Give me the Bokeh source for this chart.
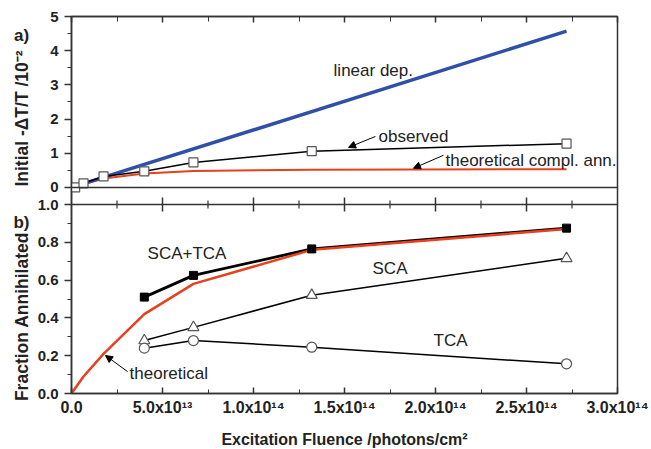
import math
from bokeh.plotting import figure
from bokeh.layouts import row
from bokeh.models import LinearAxis, FixedTicker, Range1d, Span, Label, Arrow, NormalHead
from bokeh.embed import file_html
from bokeh.resources import INLINE

# ---------------- data ----------------
fluence_obs = [0.2e13, 0.66e13, 1.76e13, 4.0e13, 6.7e13, 1.32e14, 2.72e14]
observed = [0.0, 0.12, 0.32, 0.47, 0.73, 1.06, 1.28]
linear_x = [0.0, 2.72e14]
linear_y = [0.0, 4.57]
theo_x = [0.0, 0.66e13, 1.76e13, 4.0e13, 6.7e13, 1.32e14, 2.72e14]
theo_compl = [0.0, 0.09, 0.26, 0.41, 0.48, 0.52, 0.53]
theo_frac = [0.0, 0.09, 0.21, 0.42, 0.58, 0.76, 0.87]
frac_x = [4.0e13, 6.7e13, 1.32e14, 2.72e14]
sca_tca = [0.51, 0.625, 0.765, 0.875]
sca = [0.28, 0.35, 0.52, 0.715]
tca = [0.24, 0.28, 0.245, 0.157]

x_ticks = [0.0, 5e13, 1e14, 1.5e14, 2e14, 2.5e14, 3e14]
x_minor = [2.5e13, 7.5e13, 1.25e14, 1.75e14, 2.25e14, 2.75e14]
x_tick_labels = ["0.0", "5.0x10¹³", "1.0x10¹⁴", "1.5x10¹⁴", "2.0x10¹⁴", "2.5x10¹⁴", "3.0x10¹⁴"]
ya_ticks = [0, 1, 2, 3, 4, 5]
ya_tick_labels = ["0", "1", "2", "3", "4", "5"]
ya_minor = [0.5, 1.5, 2.5, 3.5, 4.5]
yb_ticks = [0.0, 0.2, 0.4, 0.6, 0.8, 1.0]
yb_tick_labels = ["0.0", "0.2", "0.4", "0.6", "0.8", "1.0"]
yb_minor = [0.1, 0.3, 0.5, 0.7, 0.9]

BLUE = "#3050a8"
RED = "#e8401c"
FONT = "Liberation Sans"
AX = "#333333"
TXT = "#222222"

# ---------------- layout geometry (pixels) ----------------
LBL_W = 31                     # column holding panel letters and axis titles
BORDER_L, BORDER_R, FW = 40, 34, 546
TOP, FH, BOTTOM = 16, 377, 56
PANEL_B_PX = 189               # bottom panel height inside the shared frame
PANEL_A_PX = FH - PANEL_B_PX   # top panel height

# bottom panel uses the main y range: 0..1 over PANEL_B_PX
y_main_end = FH / PANEL_B_PX
# top panel: -0.5..5 over PANEL_A_PX
a_lo, a_hi = -0.5, 5.0
a_start = a_lo - (a_hi - a_lo) * PANEL_B_PX / PANEL_A_PX


def a_to_main(v):
    return (v - a_start) / (a_hi - a_start) * y_main_end


p = figure(frame_width=FW, frame_height=FH,
           min_border_left=BORDER_L, min_border_right=BORDER_R,
           min_border_top=TOP, min_border_bottom=BOTTOM,
           x_range=Range1d(0, 3e14), y_range=Range1d(0, y_main_end),
           output_backend="svg", toolbar_location=None,
           background_fill_color="white", border_fill_color="white")
p.extra_y_ranges = {"a": Range1d(a_start, a_hi)}
p.grid.visible = False
p.outline_line_color = AX
p.outline_line_width = 1.5

# ---- left axis carrying both panels' ticks ----
ya_main = [a_to_main(v) for v in ya_ticks]
ya_minor_main = [a_to_main(v) for v in ya_minor]
yax = p.yaxis[0]
yax.ticker = FixedTicker(ticks=yb_ticks + ya_main, minor_ticks=yb_minor + ya_minor_main)
overrides = {t: l for t, l in zip(yb_ticks, yb_tick_labels)}
overrides.update({t: l for t, l in zip(ya_main, ya_tick_labels)})
yax.major_label_overrides = overrides
yax.major_tick_out = 7
yax.major_tick_in = 0
yax.minor_tick_out = 4
yax.minor_tick_in = 0
yax.major_label_standoff = 6
yax.major_label_text_font = FONT
yax.major_label_text_font_style = "bold"
yax.major_label_text_font_size = "15px"
yax.major_label_text_color = TXT
yax.axis_line_color = AX
yax.axis_line_width = 1.5
yax.major_tick_line_color = AX
yax.minor_tick_line_color = AX
yax.major_tick_line_width = 1.5

# ---- bottom axis ----
xb = p.xaxis[0]
xb.ticker = FixedTicker(ticks=x_ticks, minor_ticks=x_minor)
xb.major_label_overrides = {t: l for t, l in zip(x_ticks, x_tick_labels)}
xb.major_tick_in = 6
xb.major_tick_out = 0
xb.minor_tick_in = 4
xb.minor_tick_out = 0
xb.major_label_standoff = 5
xb.major_label_text_font = FONT
xb.major_label_text_font_style = "bold"
xb.major_label_text_font_size = "16px"
xb.major_label_text_color = TXT
xb.axis_label = "Excitation Fluence /photons/cm²"
xb.axis_label_text_font = FONT
xb.axis_label_text_font_style = "bold"
xb.axis_label_text_font_size = "16px"
xb.axis_label_text_color = TXT
xb.axis_label_standoff = 12
xb.axis_line_color = AX
xb.axis_line_width = 1.5
xb.major_tick_line_color = AX
xb.minor_tick_line_color = AX
xb.major_tick_line_width = 1.5

# ---- top axis: inward ticks, no labels ----
xt = LinearAxis()
xt.ticker = FixedTicker(ticks=x_ticks, minor_ticks=x_minor)
xt.major_tick_in = 6
xt.major_tick_out = 0
xt.minor_tick_in = 5
xt.minor_tick_out = 0
xt.major_label_text_font_size = "0px"
xt.major_label_standoff = 0
xt.axis_line_color = AX
xt.axis_line_width = 1.5
xt.major_tick_line_color = AX
xt.minor_tick_line_color = AX
xt.major_tick_line_width = 1.5
p.add_layout(xt, "above")

# ---- panel divider and zero line of panel a ----
p.add_layout(Span(location=1.0, dimension="width", line_color=AX, line_width=1.5))
p.add_layout(Span(location=a_to_main(0), dimension="width", line_color=AX, line_width=1.5))
# crossing ticks on the divider
maj_d = 7 / PANEL_B_PX
min_d = 4 / PANEL_B_PX
p.segment(x0=x_ticks[1:-1], y0=[1.0 - maj_d] * (len(x_ticks) - 2),
          x1=x_ticks[1:-1], y1=[1.0 + maj_d] * (len(x_ticks) - 2),
          line_color=AX, line_width=1.5)
p.segment(x0=x_minor, y0=[1.0 - min_d] * len(x_minor),
          x1=x_minor, y1=[1.0 + min_d] * len(x_minor),
          line_color=AX, line_width=1.2)

# ---------------- panel a glyphs ----------------
p.line(theo_x, theo_compl, line_color=RED, line_width=2, y_range_name="a")
p.line(linear_x, linear_y, line_color=BLUE, line_width=3.5, y_range_name="a")
p.line(fluence_obs, observed, line_color="black", line_width=1.5, y_range_name="a")
p.scatter(fluence_obs, observed, marker="square", size=9, fill_color="white",
          line_color="#555555", line_width=1.2, y_range_name="a")

txt = dict(text_font=FONT, text_font_size="17px", text_color=TXT, text_baseline="middle")
p.add_layout(Label(x=1.44e14, y=3.42, text="linear dep.", y_range_name="a", **txt))
p.add_layout(Label(x=1.687e14, y=1.49, text="observed", y_range_name="a", **txt))
p.add_layout(Label(x=2.055e14, y=0.79, text="theoretical compl. ann.", y_range_name="a", **txt))
p.add_layout(Arrow(end=NormalHead(size=7, fill_color="black", line_color="black"),
                   x_start=1.67e14, y_start=1.49, x_end=1.522e14, y_end=1.17,
                   line_color="black", line_width=1, y_range_name="a"))
p.add_layout(Arrow(end=NormalHead(size=7, fill_color="black", line_color="black"),
                   x_start=2.044e14, y_start=0.94, x_end=1.879e14, y_end=0.56,
                   line_color="black", line_width=1, y_range_name="a"))

# ---------------- panel b glyphs ----------------
p.line(frac_x, sca_tca, line_color="black", line_width=2.8)
p.line(theo_x, theo_frac, line_color=RED, line_width=2.5)
p.line(frac_x, sca, line_color="black", line_width=1.5)
p.line(frac_x, tca, line_color="black", line_width=1.5)
p.scatter(frac_x, sca_tca, marker="square", size=8, fill_color="black", line_color="black")
p.scatter(frac_x, sca, marker="triangle", size=11, fill_color="white",
          line_color="#555555", line_width=1.2)
p.scatter(frac_x, tca, marker="circle", size=10, fill_color="white",
          line_color="#555555", line_width=1.2)

p.add_layout(Label(x=4.18e13, y=0.741, text="SCA+TCA", **txt))
p.add_layout(Label(x=1.654e14, y=0.661, text="SCA", **txt))
p.add_layout(Label(x=1.989e14, y=0.28, text="TCA", **txt))
p.add_layout(Label(x=3.19e13, y=0.106, text="theoretical", **txt))
p.add_layout(Arrow(end=NormalHead(size=7, fill_color="black", line_color="black"),
                   x_start=3.08e13, y_start=0.116, x_end=1.87e13, y_end=0.201,
                   line_color="black", line_width=1))

# ---------------- left title column ----------------
H = TOP + FH + BOTTOM
lf = figure(frame_width=LBL_W, frame_height=H, min_border=0,
            x_range=Range1d(0, LBL_W), y_range=Range1d(H, 0),
            x_axis_location=None, y_axis_location=None,
            output_backend="svg", toolbar_location=None,
            background_fill_color="white", border_fill_color="white")
lf.grid.visible = False
lf.outline_line_color = None
bold = dict(text_font=FONT, text_font_style="bold", text_color=TXT,
            text_baseline="middle", text_align="center")
lf.add_layout(Label(x=21, y=19, text="a)", text_font_size="17px", **bold))
lf.add_layout(Label(x=21, y=206, text="b)", text_font_size="17px", **bold))
lf.add_layout(Label(x=21, y=102, text="Initial -ΔT/T /10⁻²", angle=math.pi / 2,
                    text_font_size="17.5px", **bold))
lf.add_layout(Label(x=21, y=300, text="Fraction Annihilated", angle=math.pi / 2,
                    text_font_size="17.5px", **bold))

layout = row(lf, p, spacing=0)
open("out.html", "w").write(file_html(layout, INLINE))
